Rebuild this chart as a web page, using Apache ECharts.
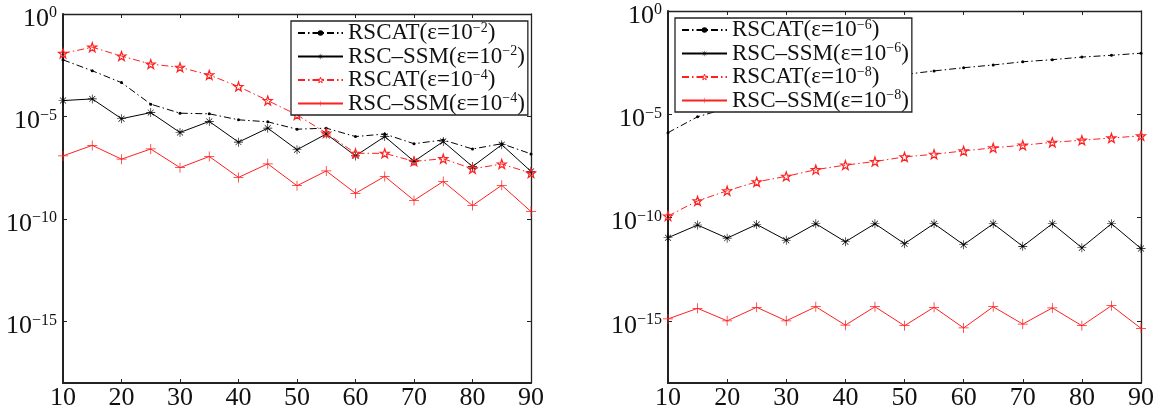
<!DOCTYPE html>
<html>
<head>
<meta charset="utf-8">
<script src="https://cdn.jsdelivr.net/npm/echarts@6/dist/echarts.min.js"></script>
<style>
  html, body { margin: 0; padding: 0; background: #fff; }
  #charts { width: 1158px; height: 412px; }
</style>
</head>
<body>
<div id="charts"></div>
<script>
// problem sizes on the x axis
var sizes = [10, 15, 20, 25, 30, 35, 40, 45, 50, 55, 60, 65, 70, 75, 80, 85, 90];
var yTicks = [1e-15, 1e-10, 1e-5, 1];

// left panel
var rscat_e2 = [5.8e-3, 1.7e-3, 4.5e-4, 4.0e-5, 1.45e-5, 1.35e-5, 6.9e-6, 5.5e-6, 2.4e-6, 2.7e-6, 1.05e-6, 1.4e-6, 4.7e-7, 7.2e-7, 2.6e-7, 4.7e-7, 1.5e-7];
var rscssm_e2 = [6.0e-5, 7.2e-5, 7.8e-6, 1.55e-5, 1.66e-6, 5.75e-6, 5.6e-7, 2.7e-6, 2.4e-7, 1.4e-6, 1.2e-7, 1.05e-6, 6.5e-8, 6.0e-7, 3.6e-8, 4.2e-7, 2.1e-8];
var rscat_e4 = [1.2e-2, 2.4e-2, 8.9e-3, 3.6e-3, 2.5e-3, 1.07e-3, 2.9e-4, 6.0e-5, 1.2e-5, 1.55e-6, 1.6e-7, 1.6e-7, 6.5e-8, 8.7e-8, 2.8e-8, 4.8e-8, 1.74e-8];
var rscssm_e4 = [1.2e-7, 3.9e-7, 8.3e-8, 2.6e-7, 3.2e-8, 1.12e-7, 1.07e-8, 4.9e-8, 4.2e-9, 2.2e-8, 1.8e-9, 1.2e-8, 8.1e-10, 6.8e-9, 4.5e-10, 4.4e-9, 2.3e-10];

// right panel
var rscat_e6 = [1.3e-6, 7.6e-6, 2.0e-5, 4.5e-5, 1.0e-4, 2.0e-4, 3.5e-4, 5.6e-4, 8.5e-4, 1.26e-3, 1.8e-3, 2.45e-3, 3.5e-3, 4.4e-3, 5.9e-3, 7.2e-3, 9.1e-3];
var rscssm_e6 = [1.07e-11, 4.4e-11, 1.02e-11, 4.7e-11, 8.1e-12, 5.1e-11, 6.8e-12, 5.1e-11, 5.5e-12, 5.1e-11, 4.9e-12, 5.1e-11, 4.1e-12, 5.1e-11, 3.5e-12, 5.1e-11, 3.2e-12];
var rscat_e8 = [1.2e-10, 6.5e-10, 2.0e-9, 5.4e-9, 1.0e-8, 2.1e-8, 3.5e-8, 5.2e-8, 8.7e-8, 1.17e-7, 1.7e-7, 2.4e-7, 3.2e-7, 4.4e-7, 5.6e-7, 7.2e-7, 9.1e-7];
var rscssm_e8 = [1.26e-15, 4.1e-15, 1.02e-15, 4.6e-15, 1.02e-15, 4.9e-15, 6.3e-16, 4.9e-15, 5.9e-16, 4.6e-15, 4.6e-16, 4.9e-15, 7.1e-16, 4.3e-15, 5.9e-16, 5.5e-15, 4.4e-16];

var namesLeft = ['RSCAT(ε=10^−2)', 'RSC–SSM(ε=10^−2)', 'RSCAT(ε=10^−4)', 'RSC–SSM(ε=10^−4)'];
var namesRight = ['RSCAT(ε=10^−6)', 'RSC–SSM(ε=10^−6)', 'RSCAT(ε=10^−8)', 'RSC–SSM(ε=10^−8)'];

var FONT = 'Liberation Serif';
var RED = '#ff2020';
var ASTERISK = 'path://M9.3 0H10.7V9.3H20V10.7H10.7V20H9.3V10.7H0V9.3H9.3Z M2.9 3.9L3.9 2.9L17.1 16.1L16.1 17.1Z M16.1 2.9L17.1 3.9L3.9 17.1L2.9 16.1Z';
var PLUS = 'path://M9.25 0H10.75V9.25H20V10.75H10.75V20H9.25V10.75H0V9.25H9.25Z';
var STAR = 'path://M10 0L12.35 6.76L19.51 6.91L13.8 11.24L15.88 18.09L10 14L4.12 18.09L6.2 11.24L0.49 6.91L7.65 6.76Z';
var DASHDOT = [7, 3, 1.5, 3];
var CLEAR = 'rgba(255,255,255,0)';

function pairs(vals) {
  return sizes.map(function (x, i) { return [x, vals[i]]; });
}

function expOf(v) {
  return Math.round(Math.log10(v));
}

function mkX(gi, pos) {
  return {
    type: 'value', gridIndex: gi, position: pos, min: 10, max: 90, interval: 10,
    axisLine: { onZero: false, lineStyle: { color: '#222', width: pos === 'bottom' ? 2 : 1.3 } },
    axisTick: { inside: true, length: 4, lineStyle: { color: '#222' } },
    axisLabel: { show: pos === 'bottom', color: '#111', fontFamily: FONT, fontSize: 26, margin: 2 },
    splitLine: { show: false }
  };
}

function mkY(gi, pos) {
  return {
    type: 'log', logBase: 10, gridIndex: gi, position: pos, min: 1e-18, max: 1,
    axisLine: { onZero: false, lineStyle: { color: '#222', width: pos === 'left' ? 2 : 1.3 } },
    axisTick: { inside: true, length: 4, customValues: yTicks, lineStyle: { color: '#222' } },
    axisLabel: {
      show: pos === 'left', customValues: yTicks, margin: 6, padding: [10, 0, 0, 0],
      formatter: function (v) {
        var e = expOf(v);
        return '{b|10}{s|' + (e < 0 ? '−' + (-e) : e) + '}';
      },
      rich: {
        b: { fontFamily: FONT, fontSize: 26, lineHeight: 28, color: '#111' },
        s: { fontFamily: FONT, fontSize: 16, lineHeight: 17, color: '#111', verticalAlign: 'top' }
      }
    },
    splitLine: { show: false }
  };
}

function mkLegend(names, left, top) {
  return {
    data: [
      { name: names[0] },
      { name: names[1] },
      { name: names[2], itemStyle: { color: CLEAR, borderColor: RED, borderWidth: 1 } },
      { name: names[3] }
    ],
    orient: 'vertical', left: left, top: top,
    padding: [0, 3, 0, 6], itemGap: 0, itemWidth: 45, itemHeight: 7, itemTextGap: 2,
    backgroundColor: '#fff', borderColor: '#222', borderWidth: 1.3, borderRadius: 0,
    selectedMode: false,
    formatter: function (name) {
      var m = name.split('^');
      var tail = m[1].slice(0, -1);
      return '{t|' + m[0] + '}{s|' + tail + '}{t|)}';
    },
    textStyle: {
      rich: {
        t: { fontFamily: FONT, fontSize: 23, lineHeight: 24, color: '#111' },
        s: { fontFamily: FONT, fontSize: 14, lineHeight: 14, color: '#111', verticalAlign: 'top' }
      }
    }
  };
}

function mkSeries(name, vals, gi, kind, color) {
  var s = {
    name: name, type: 'line', data: pairs(vals),
    xAxisIndex: gi * 2, yAxisIndex: gi * 2,
    showSymbol: true, animation: false,
    lineStyle: { color: color, width: 1 },
    emphasis: { disabled: true }
  };
  if (kind === 'dot') {
    s.symbol = 'circle'; s.symbolSize = 3;
    s.itemStyle = { color: color };
    s.lineStyle.type = DASHDOT;
  } else if (kind === 'star') {
    s.symbol = STAR; s.symbolSize = 9;
    s.itemStyle = { color: CLEAR, borderColor: color, borderWidth: 1.2 };
    s.lineStyle.type = DASHDOT;
  } else if (kind === 'ast') {
    s.symbol = ASTERISK; s.symbolSize = 9;
    s.itemStyle = { color: color };
  } else {
    s.symbol = PLUS; s.symbolSize = 10;
    s.itemStyle = { color: color };
  }
  return s;
}

var chart = echarts.init(document.getElementById('charts'), null, { renderer: 'canvas' });
var option = {
  animation: false,
  backgroundColor: '#fff',
  grid: [
    { left: 63, right: 627, top: 14, bottom: 29 },
    { left: 668, right: 17, top: 11, bottom: 29 }
  ],
  xAxis: [mkX(0, 'bottom'), mkX(0, 'top'), mkX(1, 'bottom'), mkX(1, 'top')],
  yAxis: [mkY(0, 'left'), mkY(0, 'right'), mkY(1, 'left'), mkY(1, 'right')],
  legend: [mkLegend(namesLeft, 291, 21), mkLegend(namesRight, 675, 18)],
  series: [
    mkSeries(namesLeft[0], rscat_e2, 0, 'dot', '#000'),
    mkSeries(namesLeft[1], rscssm_e2, 0, 'ast', '#000'),
    mkSeries(namesLeft[2], rscat_e4, 0, 'star', RED),
    mkSeries(namesLeft[3], rscssm_e4, 0, 'plus', RED),
    mkSeries(namesRight[0], rscat_e6, 1, 'dot', '#000'),
    mkSeries(namesRight[1], rscssm_e6, 1, 'ast', '#000'),
    mkSeries(namesRight[2], rscat_e8, 1, 'star', RED),
    mkSeries(namesRight[3], rscssm_e8, 1, 'plus', RED)
  ]
};
chart.setOption(option);
</script>
</body>
</html>
